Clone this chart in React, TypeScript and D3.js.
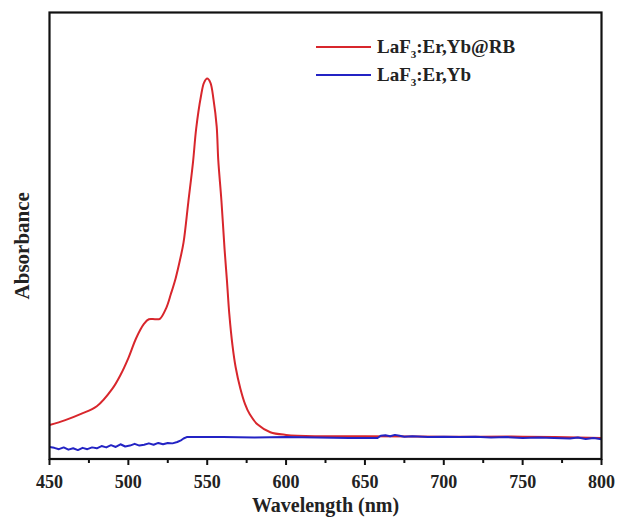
import React, { useEffect, useRef } from "react";
import * as d3 from "d3";

// wavelength (nm) / absorbance (a.u.)
const redWave = [450, 460, 470, 480, 490, 495, 500, 505, 510, 513, 517, 520, 524, 527, 530, 533, 535, 538, 541, 543, 546, 548, 550, 552, 554, 556, 557, 559, 561, 562.5, 564, 566, 568, 571, 574, 577, 582, 590, 600, 620, 650, 700, 750, 800];
const redAbs = [0.076, 0.087, 0.101, 0.118, 0.158, 0.188, 0.226, 0.271, 0.303, 0.313, 0.313, 0.314, 0.338, 0.37, 0.405, 0.45, 0.485, 0.575, 0.665, 0.74, 0.812, 0.843, 0.852, 0.843, 0.805, 0.745, 0.67, 0.579, 0.47, 0.4, 0.325, 0.255, 0.206, 0.158, 0.123, 0.1, 0.077, 0.06, 0.054, 0.051, 0.051, 0.05, 0.05, 0.047];

const blueWave = [450, 453, 456, 459, 462, 465, 468, 471, 474, 477, 480, 483, 486, 489, 492, 495, 498, 501, 504, 507, 510, 513, 516, 519, 522, 525, 528, 531, 533, 535, 537, 545, 560, 580, 600, 620, 640, 658, 660, 663, 666, 669, 672, 675, 680, 690, 700, 710, 720, 730, 740, 750, 760, 770, 780, 785, 790, 795, 800];
const blueAbs = [0.027, 0.025, 0.022, 0.026, 0.021, 0.024, 0.02, 0.025, 0.022, 0.026, 0.024, 0.029, 0.026, 0.031, 0.027, 0.033, 0.028, 0.03, 0.034, 0.03, 0.032, 0.035, 0.032, 0.036, 0.033, 0.036, 0.035, 0.038, 0.041, 0.046, 0.049, 0.049, 0.049, 0.048, 0.049, 0.048, 0.047, 0.047, 0.052, 0.053, 0.051, 0.054, 0.052, 0.05, 0.051, 0.049, 0.05, 0.049, 0.05, 0.048, 0.049, 0.047, 0.048, 0.047, 0.046, 0.048, 0.045, 0.047, 0.044];

const xTicks = [450, 500, 550, 600, 650, 700, 750, 800];
const xMinorTicks = [475, 525, 575, 625, 675, 725, 775];

const series = [
  { name: "LaF", sub: "3", rest: ":Er,Yb@RB", color: "#d8262c", wave: redWave, abs: redAbs },
  { name: "LaF", sub: "3", rest: ":Er,Yb", color: "#2323c4", wave: blueWave, abs: blueAbs },
];

const App = () => {
  const ref = useRef<SVGSVGElement>(null);

  useEffect(() => {
    const width = 618;
    const height = 517;
    const left = 49.5, right = 601.5, top = 12.5, bottom = 459;
    const font = "'Liberation Serif', 'Times New Roman', serif";

    const svg = d3.select(ref.current);
    svg.selectAll("*").remove();
    svg.attr("width", width).attr("height", height);

    const x = d3.scaleLinear().domain([450, 800]).range([left, right]);
    const y = d3.scaleLinear().domain([0, 1]).range([bottom, top]);

    const plot = svg.append("g");

    // curves
    series.forEach((s, i) => {
      const pts = s.wave.map((w, j) => [w, s.abs[j]] as [number, number]);
      const line = d3.line<[number, number]>()
        .x(d => x(d[0]))
        .y(d => y(d[1]))
        .curve(i === 0 ? d3.curveCatmullRom.alpha(0.5) : d3.curveLinear);
      plot.append("path")
        .datum(pts)
        .attr("fill", "none")
        .attr("stroke", s.color)
        .attr("stroke-width", 2)
        .attr("stroke-linejoin", "round")
        .attr("d", line);
    });

    // frame
    svg.append("rect")
      .attr("x", left).attr("y", top)
      .attr("width", right - left).attr("height", bottom - top)
      .attr("fill", "none").attr("stroke", "#111").attr("stroke-width", 2.2);

    // x axis ticks
    const ax = svg.append("g").attr("stroke", "#111").attr("stroke-width", 2);
    ax.selectAll("line.major").data(xTicks).join("line")
      .attr("class", "major")
      .attr("x1", d => x(d)).attr("x2", d => x(d))
      .attr("y1", bottom).attr("y2", bottom + 6);
    ax.selectAll("line.minor").data(xMinorTicks).join("line")
      .attr("class", "minor")
      .attr("x1", d => x(d)).attr("x2", d => x(d))
      .attr("y1", bottom).attr("y2", bottom + 4);

    svg.append("g").selectAll("text").data(xTicks).join("text")
      .attr("x", d => x(d))
      .attr("y", 488)
      .attr("text-anchor", "middle")
      .style("font-family", font)
      .style("font-weight", "bold")
      .style("font-size", "18px")
      .attr("fill", "#222")
      .text(d => d);

    svg.append("text")
      .attr("x", (left + right) / 2)
      .attr("y", 512)
      .attr("text-anchor", "middle")
      .style("font-family", font)
      .style("font-weight", "bold")
      .style("font-size", "20px")
      .attr("fill", "#222")
      .text("Wavelength (nm)");

    svg.append("text")
      .attr("transform", `translate(29,${(top + bottom) / 2 + 10}) rotate(-90)`)
      .attr("text-anchor", "middle")
      .style("font-family", font)
      .style("font-weight", "bold")
      .style("font-size", "21px")
      .attr("fill", "#222")
      .text("Absorbance");

    // legend
    const lg = svg.append("g");
    series.forEach((s, i) => {
      const ly = 47 + i * 28;
      lg.append("line")
        .attr("x1", 316).attr("x2", 371)
        .attr("y1", ly).attr("y2", ly)
        .attr("stroke", s.color).attr("stroke-width", 2);
      const t = lg.append("text")
        .attr("x", 377).attr("y", ly + 6)
        .style("font-family", font)
        .style("font-weight", "bold")
        .style("font-size", "19px")
        .attr("fill", "#222");
      t.append("tspan").text(s.name);
      t.append("tspan").attr("dy", 5).style("font-size", "11px").text(s.sub);
      t.append("tspan").attr("dy", -5).text(s.rest);
    });
  }, []);

  return (
    <svg ref={ref} style={{ position: "absolute", left: 0, top: 0, background: "#fff" }} />
  );
};

export default App;
